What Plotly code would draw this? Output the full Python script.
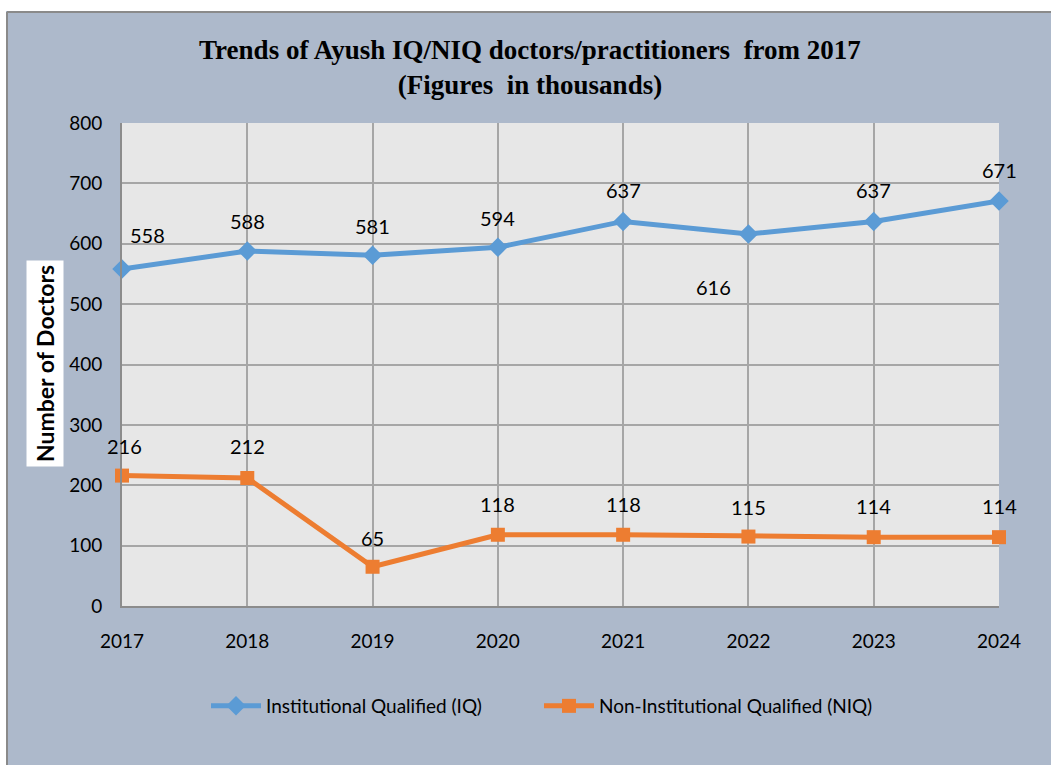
import plotly.graph_objects as go

years = [2017, 2018, 2019, 2020, 2021, 2022, 2023, 2024]
iq_values = [558, 588, 581, 594, 637, 616, 637, 671]
niq_values = [216, 212, 65, 118, 118, 115, 114, 114]
iq_name = "Institutional Qualified (IQ)"
niq_name = "Non-Institutional Qualified (NIQ)"
y_ticks = [0, 100, 200, 300, 400, 500, 600, 700, 800]

BLUE = "#5B9BD5"
ORANGE = "#ED7D31"
BG = "#ADB9CB"
FONT = "Lato, Open Sans, sans-serif"

fig = go.Figure()
fig.add_trace(go.Scatter(
    x=years, y=iq_values, name=iq_name, mode="lines+markers",
    line=dict(color=BLUE, width=5),
    marker=dict(symbol="diamond", size=15, color=BLUE),
    cliponaxis=False,
))
fig.add_trace(go.Scatter(
    x=years, y=niq_values, name=niq_name, mode="lines+markers",
    line=dict(color=ORANGE, width=5),
    marker=dict(symbol="square", size=14, color=ORANGE),
    cliponaxis=False,
))

# data labels (offsets in px relative to each point)
iq_offsets = [(25, 34), (0, 30), (0, 29), (0, 29), (0, 31), (-35, -53), (0, 31), (0, 31)]
niq_offsets = [(2, 30), (0, 32), (0, 29), (0, 31), (0, 31), (0, 30), (0, 31), (0, 31)]
annotations = []
for vals, offs in ((iq_values, iq_offsets), (niq_values, niq_offsets)):
    for x, v, (dx, dy) in zip(years, vals, offs):
        annotations.append(dict(
            x=x, y=v, xref="x", yref="y", text=str(v), showarrow=False,
            xshift=dx, yshift=dy, font=dict(family=FONT, size=20, color="#000000"),
        ))

annotations.append(dict(
    x=(45 - 122) / 877, y=(606 - 364) / 483, xref="paper", yref="paper",
    xanchor="center", yanchor="middle",
    text="<b>Number of Doctors</b>",
    textangle=-90, showarrow=False, bgcolor="#FFFFFF", borderpad=4,
    font=dict(family=FONT, size=23, color="#000000"),
))

fig.update_layout(
    width=1051, height=765,
    margin=dict(l=122, r=52, t=123, b=159),
    paper_bgcolor=BG, plot_bgcolor="#E7E7E7",
    title=dict(
        text="<b>Trends of Ayush IQ/NIQ doctors/practitioners  from 2017<br>(Figures  in thousands)</b>",
        x=530 / 1051, xanchor="center",
        y=1 - 59 / 765, yanchor="middle",
        font=dict(family="Liberation Serif, serif", size=27, color="#000000"),
    ),
    xaxis=dict(
        range=[2017, 2024], tickvals=years, ticktext=[str(y) for y in years],
        showgrid=True, gridcolor="#A6A6A6", gridwidth=1.5,
        showline=True, linecolor="#8C8C8C", linewidth=2,
        ticks="", ticklabelstandoff=17,
        tickfont=dict(family=FONT, size=19, color="#000000"), zeroline=False,
    ),
    yaxis=dict(
        range=[0, 800], tickvals=y_ticks,
        showgrid=True, gridcolor="#A6A6A6", gridwidth=1.5,
        showline=True, linecolor="#8C8C8C", linewidth=2,
        ticks="", ticklabelstandoff=14,
        tickfont=dict(family=FONT, size=19, color="#000000"), zeroline=False,
    ),
    legend=dict(
        orientation="h", x=(206 - 122) / 877, xanchor="left", y=(606 - 706) / 483, yanchor="middle",
        font=dict(family=FONT, size=19, color="#000000"),
        bgcolor="rgba(0,0,0,0)", itemwidth=50, tracegroupgap=0,
        entrywidth=268, entrywidthmode="pixels",
    ),
    annotations=annotations,
    shapes=[
        dict(type="rect", xref="paper", yref="paper", layer="above",
             x0=-0.2, x1=1.2, y0=(606 - 11) / 483, y1=(606 + 5) / 483,
             fillcolor="#FFFFFF", line=dict(width=0)),
        dict(type="rect", xref="paper", yref="paper", layer="above",
             x0=(0 - 122) / 877 - 0.02, x1=(6 - 122) / 877, y0=-0.4, y1=1.3,
             fillcolor="#FFFFFF", line=dict(width=0)),
        dict(type="line", xref="paper", yref="paper", layer="above",
             x0=(7 - 122) / 877, x1=1.2, y0=(606 - 12) / 483, y1=(606 - 12) / 483,
             line=dict(color="#8A8A8A", width=2)),
        dict(type="line", xref="paper", yref="paper", layer="above",
             x0=(7 - 122) / 877, x1=(7 - 122) / 877, y0=-0.4, y1=(606 - 12) / 483,
             line=dict(color="#8A8A8A", width=2)),
    ],
)

fig.write_html(
    "out.html",
    config={"displayModeBar": False},
    post_script="document.body.style.margin='0';document.body.style.overflow='hidden';",
)
